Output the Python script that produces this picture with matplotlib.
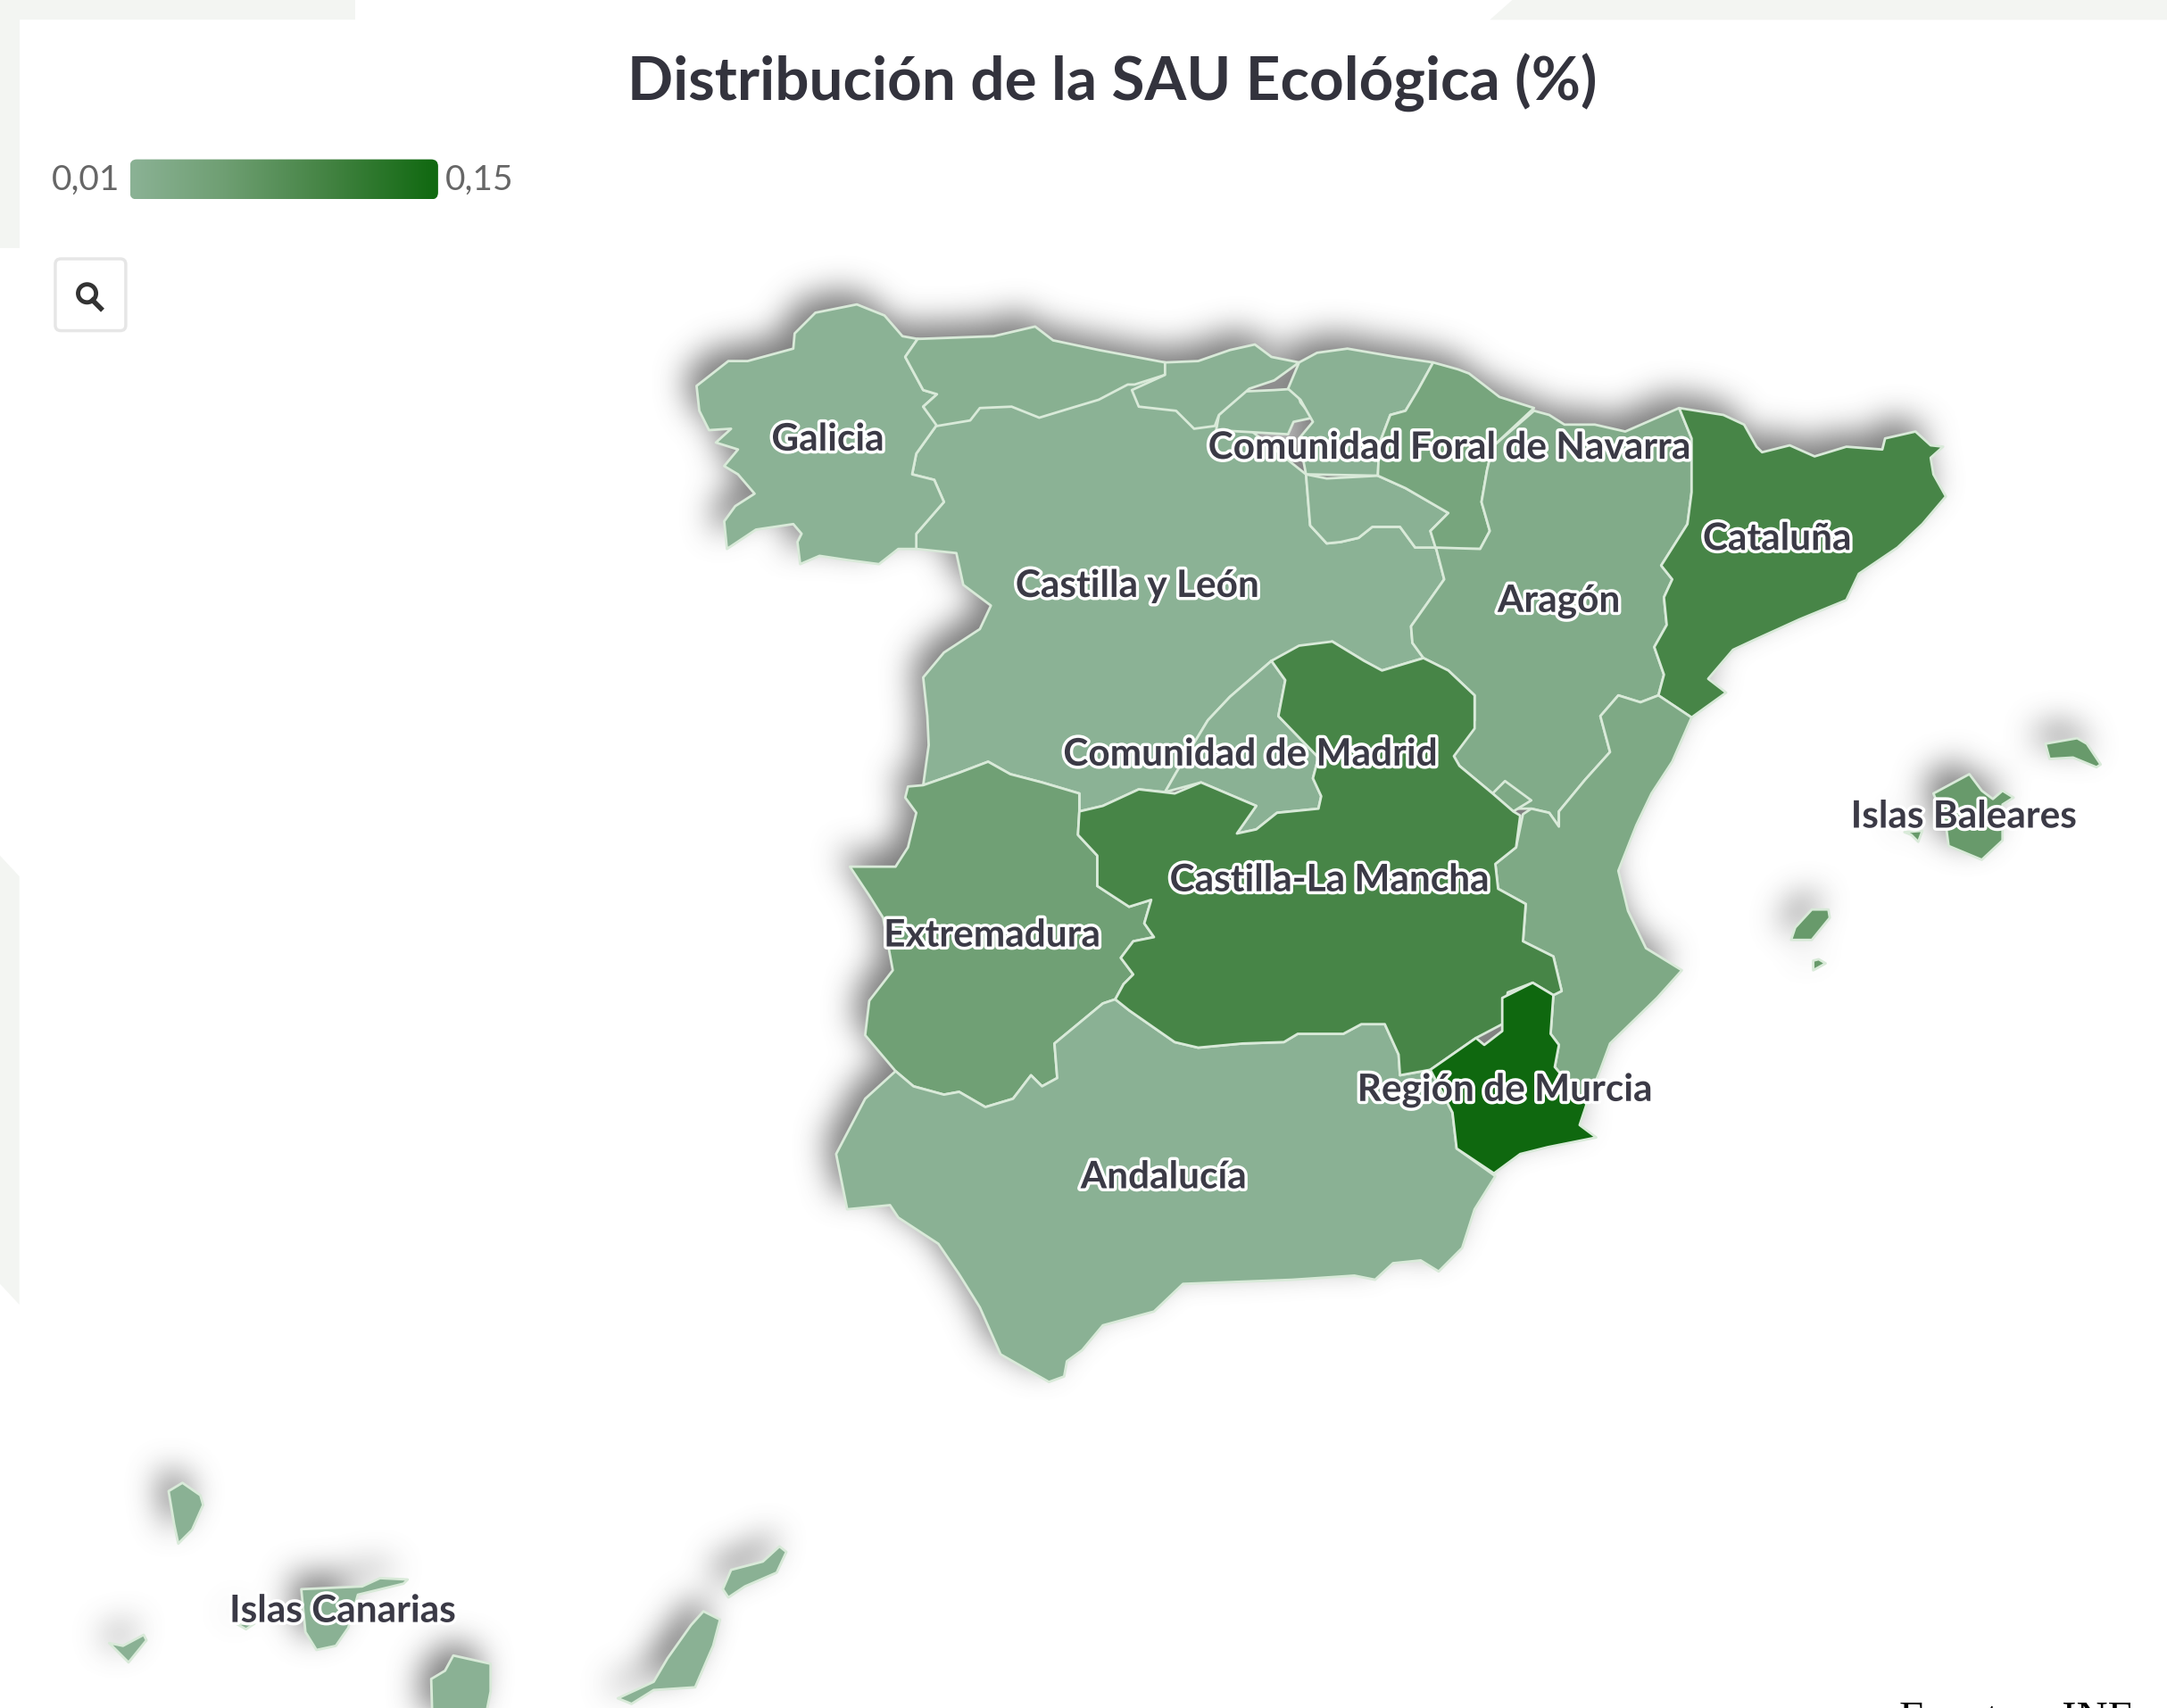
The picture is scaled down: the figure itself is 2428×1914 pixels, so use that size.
import numpy as np
import matplotlib
matplotlib.use('Agg')
import matplotlib.pyplot as plt
import matplotlib.patheffects as pe
from matplotlib.colors import LinearSegmentedColormap
from matplotlib.patches import Polygon, FancyBboxPatch, Circle
from matplotlib.lines import Line2D

galicia = [(504,280),(527,262),(541,262),(574,253),(575,242),(590,227),(620,221),(640,229),(653,244),(664,246),
           (655,259),(668,283),(678,286),(668,295),(678,308),(663,329),(660,344),(676,348),(683,364),(663,387),
           (663,398),(650,398),(636,409),(613,406),(593,403),(579,409),(577,393),(580,387),(574,380),(547,384),
           (526,398),(524,378),(532,367),(546,358),(534,344),(524,338),(534,326),(518,321),(529,311),(513,312),(506,298)]
asturias = [(664,246),(719,244),(749,237),(762,247),(795,254),(843,263),(843,272),(821,279),(816,279),(795,290),
            (775,296),(752,303),(732,295),(709,296),(702,305),(678,309),(668,295),(678,286),(668,283),(655,259)]
cantabria = [(843,263),(867,262),(890,254),(908,250),(920,259),(940,263),(922,276),(904,282),(882,301),(879,309),
             (864,311),(851,298),(824,295),(819,283),(843,272)]
pais_vasco = [(940,263),(953,256),(975,253),(1010,259),(1037,263),(1026,283),(1017,298),(1006,301),(998,322),
              (997,345),(945,344),(940,318),(950,306),(941,290),(932,282)]
burgos_enclave = [(882,301),(900,284),(922,283),(938,282),(941,292),(950,303),(936,306),(932,315),(880,312)]
la_rioja = [(945,344),(960,347),(997,345),(1017,354),(1048,372),(1035,385),(1039,397),(1024,397),(1013,382),
            (993,382),(983,390),(970,393),(960,394),(948,381)]
navarra = [(1037,263),(1055,268),(1063,271),(1085,288),(1110,296),(1080,324),(1076,341),(1072,364),(1078,385),
           (1071,398),(1039,398),(1035,385),(1048,372),(1017,354),(997,345),(998,322),(1006,301),(1017,298),(1026,283)]
aragon = [(1110,298),(1121,301),(1132,308),(1154,308),(1176,313),(1215,296),(1224,318),(1224,357),(1221,380),
          (1202,410),(1210,420),(1204,433),(1206,453),(1197,469),(1204,489),(1200,504),(1187,509),(1171,504),
          (1158,519),(1165,545),(1147,565),(1128,588),(1128,599),(1121,589),(1108,586),(1093,586),(1080,575),
          (1056,555),(1052,548),(1067,522),(1067,504),(1048,486),(1030,477),(1022,466),(1021,454),(1045,420),
          (1039,397),(1071,398),(1078,385),(1072,364),(1076,341),(1080,324)]
cataluna = [(1215,296),(1247,301),(1262,308),(1271,324),(1275,328),(1295,323),(1313,331),(1336,324),(1362,326),
            (1364,318),(1386,313),(1397,323),(1406,324),(1397,332),(1399,344),(1408,360),(1391,380),(1373,397),
            (1345,416),(1336,435),(1302,449),(1269,464),(1254,471),(1236,492),(1249,502),(1224,520),(1200,504),
            (1204,489),(1197,469),(1206,453),(1204,433),(1210,420),(1202,410),(1221,380),(1224,357),(1224,318)]
valencia = [(1200,504),(1224,520),(1210,552),(1195,575),(1184,598),(1171,631),(1178,660),(1191,687),(1217,703),
            (1199,723),(1165,756),(1158,775),(1148,800),(1125,773),(1128,757),(1122,749),(1124,721),(1130,718),
            (1124,693),(1102,682),(1104,655),(1084,644),(1082,626),(1097,614),(1102,590),(1108,586),(1121,589),
            (1128,599),(1128,588),(1147,565),(1165,545),(1158,519),(1171,504),(1187,509)]
ademuz = [(1080,575),(1089,566),(1108,580),(1095,588)]
castilla_leon = [(664,246),(843,263),(945,344),(948,381),(960,394),(970,393),(983,390),(993,382),(1013,382),(1024,397),
                 (1039,397),(1045,420),(1021,454),(1022,466),(1030,477),(1000,486),(987,479),(964,465),(920,479),
                 (890,505),(874,522),(851,560),(843,574),(824,572),(798,584),(781,588),(781,575),(754,567),(731,561),
                 (715,552),(694,560),(668,569),(672,540),(671,519),(668,491),(683,473),(709,456),(717,439),(697,424),
                 (692,401),(663,398),(663,387),(683,364),(676,348),(660,344),(663,329),(678,308)]
madrid = [(920,479),(890,505),(874,522),(851,560),(843,574),(869,567),(909,584),(895,604),(909,601),(924,589),
          (954,586),(956,577),(950,564),(954,549),(925,519),(930,493)]
clm = [(920,479),(940,468),(964,465),(987,479),(1000,486),(1030,477),(1048,486),(1067,504),(1067,528),(1052,548),
       (1056,555),(1080,575),(1095,588),(1100,591),(1097,614),(1082,626),(1084,644),(1104,655),(1102,682),(1124,693),
       (1130,718),(1124,721),(1109,712),(1091,719),(1087,742),(1068,752),(1035,775),(1013,779),(1012,764),(1002,742),
       (985,742),(972,749),(962,749),(939,749),(929,755),(899,756),(867,759),(850,755),(817,732),(807,724),(813,713),
       (820,706),(811,694),(820,682),(835,679),(828,669),(833,652),(817,657),(794,642),(794,620),(780,605),(781,588),
       (798,584),(824,572),(850,575),(869,567),(909,584),(895,604),(909,601),(924,589),(954,586),(956,577),(950,564),
       (954,549),(925,519),(930,493)]
extremadura = [(715,552),(694,560),(668,569),(657,570),(655,578),(663,589),(657,614),(648,628),(615,628),(629,649),
               (639,665),(646,703),(629,725),(626,750),(648,776),(661,787),(683,793),(694,791),(713,802),(733,796),
               (746,779),(754,787),(765,781),(763,756),(798,727),(807,724),(813,713),(820,706),(811,694),(820,682),
               (835,679),(828,669),(833,652),(817,657),(794,642),(794,620),(780,605),(781,588),(781,575),(754,567),
               (731,561)]
andalucia = [(648,776),(626,796),(605,836),(613,876),(644,873),(650,882),(679,901),(694,923),(709,947),(724,981),
             (759,1001),(770,997),(772,986),(783,978),(798,960),(835,950),(856,930),(935,927),(980,924),(995,927),
             (1008,915),(1028,913),(1041,921),(1058,904),(1067,876),(1082,852),(1054,832),(1051,806),(1035,775),
             (1013,779),(1012,764),(1002,742),(985,742),(972,749),(962,749),(939,749),(929,755),(899,756),(867,759),
             (850,755),(817,732),(807,724),(798,727),(763,756),(765,781),(754,787),(746,779),(733,796),(713,802),
             (694,791),(683,793),(661,787)]
murcia = [(1109,712),(1124,721),(1122,749),(1128,757),(1125,773),(1148,800),(1143,815),(1155,824),(1120,831),
          (1100,836),(1081,850),(1054,832),(1051,806),(1035,775),(1068,752),(1074,757),(1087,747),(1087,723)]
menorca = [(1480,539),(1503,535),(1510,539),(1520,554),(1517,556),(1500,549),(1483,550)]
mallorca = [(1425,561),(1434,573),(1442,579),(1449,573),(1457,578),(1449,583),(1449,609),(1434,623),(1410,613),
            (1408,598),(1399,575)]
dragonera = [(1378,603),(1391,602),(1388,610),(1383,605)]
ibiza = [(1323,659),(1311,659),(1299,672),(1296,681),(1311,681),(1324,665)]
formentera = [(1312,696),(1316,695),(1321,698),(1312,703)]
la_palma = [(122,1080),(132,1074),(145,1083),(147,1090),(139,1108),(129,1118),(126,1104)]
el_hierro = [(79,1190),(89,1192),(104,1184),(106,1188),(93,1204),(84,1195)]
la_gomera = [(171,1176),(184,1176),(178,1180)]
tenerife = [(218,1151),(262,1149),(275,1143),(295,1144),(292,1147),(259,1155),(252,1179),(243,1192),(229,1195),(221,1182)]
gran_canaria = [(328,1199),(355,1205),(355,1225),(350,1250),(313,1250),(312,1216),(322,1210)]
fuerteventura = [(509,1167),(521,1173),(516,1192),(503,1222),(473,1224),(457,1234),(447,1230),(473,1218),(483,1201),(500,1177)]
lanzarote = [(569,1124),(562,1139),(539,1149),(527,1157),(523,1151),(529,1137),(552,1131),(564,1120)]

# SAU ecologica, estimated from the fill colours
region_shapes = [[castilla_leon, burgos_enclave], [galicia], [asturias], [cantabria], [pais_vasco], [la_rioja],
                 [navarra], [aragon], [cataluna], [valencia, ademuz], [madrid], [extremadura], [andalucia], [clm],
                 [murcia], [menorca, mallorca, dragonera, ibiza, formentera],
                 [la_palma, el_hierro, la_gomera, tenerife, gran_canaria, fuerteventura, lanzarote]]
region_values = [0.01, 0.01, 0.015, 0.012, 0.012, 0.012, 0.04, 0.025, 0.095, 0.03, 0.012, 0.05, 0.012, 0.095,
                 0.15, 0.06, 0.012]

label_names = ['Galicia', 'Comunidad Foral de Navarra', 'Cataluña', 'Castilla y León', 'Aragón', 'Comunidad de Madrid',
               'Islas Baleares', 'Castilla-La Mancha', 'Extremadura', 'Región de Murcia', 'Andalucía', 'Islas Canarias']
label_x = [599, 1049, 1286, 823, 1128, 905, 1421, 962, 718, 1089, 842, 248]
label_y = [319, 325, 391, 425, 436, 547, 592, 638, 678, 790, 853, 1167]

scale_min = 0.01
scale_max = 0.15
page_bands = [[(0,0),(257,0),(257,15),(14,15),(14,180),(0,180)],
              [(1078,15),(1095,0),(1568,0),(1568,15)],
              [(0,620),(14,635),(14,945),(0,930)]]

W, H = 1568, 1237
fig = plt.figure(figsize=(24.28, 19.15), dpi=100)
ax = fig.add_axes([0, 0, 1, 1])
ax.set_xlim(0, W)
ax.set_ylim(H, 0)
ax.axis('off')

cmap = LinearSegmentedColormap.from_list('sau', [(0, '#8bb295'), (0.3, '#6f9f73'), (0.65, '#428241'), (1, '#0f680f')])

for band in page_bands:
    ax.add_patch(Polygon(band, closed=True, fc='#f3f5f2', ec='none', zorder=0))

# drop shadow: draw every shape in black offscreen, blur it and lay it under the map
pad = 20
mask_fig = plt.figure(figsize=((W + pad) / 200, (H + pad) / 200), dpi=100)
mask_ax = mask_fig.add_axes([0, 0, 1, 1])
mask_ax.set_xlim(0, W + pad)
mask_ax.set_ylim(H + pad, 0)
mask_ax.axis('off')
for parts in region_shapes:
    for part in parts:
        mask_ax.add_patch(Polygon(part, closed=True, fc='k', ec='none'))
mask_fig.canvas.draw()
mask = 1 - np.asarray(mask_fig.canvas.buffer_rgba())[:, :, 0] / 255.0
plt.close(mask_fig)
box = np.ones(11) / 11
for _ in range(3):
    mask = np.apply_along_axis(lambda r: np.convolve(r, box, mode='same'), 0, mask)
    mask = np.apply_along_axis(lambda r: np.convolve(r, box, mode='same'), 1, mask)
shadow = np.zeros(mask.shape + (4,))
shadow[:, :, :3] = 0.42
shadow[:, :, 3] = mask * 0.9
ax.imshow(shadow, extent=(-8, W + pad - 8, H + pad - 10, -10), aspect='auto', zorder=1, interpolation='bilinear')
ax.set_xlim(0, W)
ax.set_ylim(H, 0)

for parts, value in zip(region_shapes, region_values):
    colour = cmap((value - scale_min) / (scale_max - scale_min))
    for part in parts:
        ax.add_patch(Polygon(part, closed=True, fc=colour, ec='#d9ead9', lw=2.0, joinstyle='round', zorder=2))

for name, x, y in zip(label_names, label_x, label_y):
    ax.text(x, y, name, ha='center', va='center', fontsize=30.5, fontweight='bold', family='Lato',
            color='#3b3a46', zorder=5, path_effects=[pe.withStroke(linewidth=5, foreground='white')])

ax.text(805, 60, 'Distribución de la SAU Ecológica (%)', ha='center', va='center', fontsize=48.5, fontweight='bold',
        family='Lato', color='#33333d', zorder=5)

# colour scale
gradient = np.linspace(0, 1, 256).reshape(1, -1)
bar = ax.imshow(gradient, cmap=cmap, extent=(94, 317, 145, 116), aspect='auto', zorder=3)
ax.set_xlim(0, W)
ax.set_ylim(H, 0)
clip = FancyBboxPatch((97, 119), 217, 23, boxstyle='round,pad=3,rounding_size=5', fc='none', ec='none',
                      transform=ax.transData)
ax.add_patch(clip)
bar.set_clip_path(clip)
ax.text(87, 130, f'{scale_min:.2f}'.replace('.', ','), ha='right', va='center', fontsize=28, family='Lato',
        color='#666666')
ax.text(322, 130, f'{scale_max:.2f}'.replace('.', ','), ha='left', va='center', fontsize=28, family='Lato',
        color='#666666')

# search button
ax.add_patch(FancyBboxPatch((42, 190), 47, 48, boxstyle='round,pad=2,rounding_size=4', fc='white', ec='#e6e6e6',
                            lw=2.5, zorder=3))
ax.add_patch(Circle((63, 213), 6.5, fc='none', ec='#333333', lw=3.5, zorder=4))
ax.add_line(Line2D([67, 73], [218, 224], color='#333333', lw=4, zorder=4))

ax.text(1374, 1231, 'Fuente:   INE', ha='left', va='top', fontsize=35, family='Liberation Serif', color='black',
        zorder=5)

fig.savefig('out.png', dpi=100, facecolor='white')
